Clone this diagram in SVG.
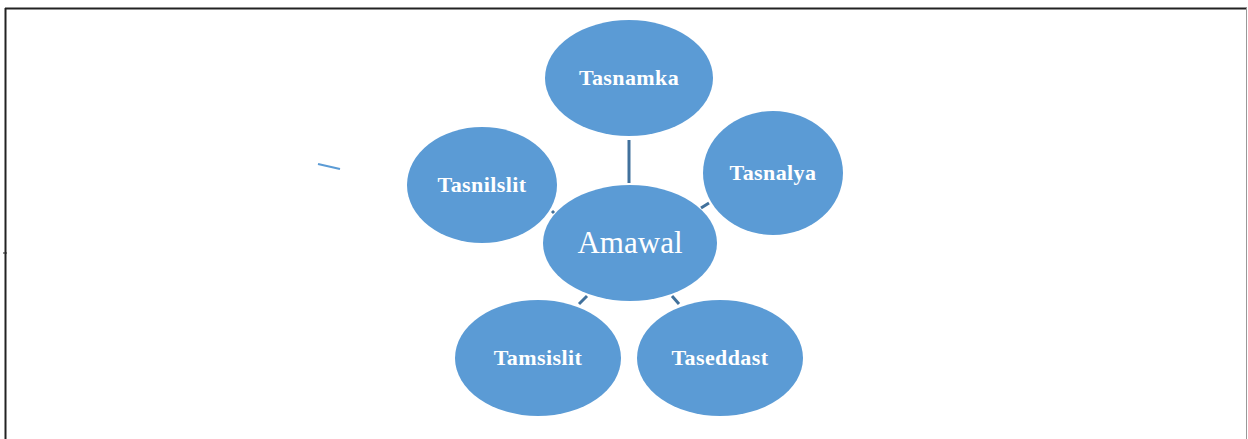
<svg xmlns="http://www.w3.org/2000/svg" width="1248" height="439" viewBox="0 0 1248 439">
<style>
.n{fill:#5B9BD5;}
.t{fill:#fff;font-family:"Liberation Serif",serif;font-weight:bold;font-size:22px;letter-spacing:0.4px;text-anchor:middle;}
.c{stroke:#41719C;stroke-width:3;fill:none;}
</style>
<rect width="1248" height="439" fill="#fff"/>
<g id="frame">
<line x1="5" y1="8.5" x2="1247" y2="8.5" stroke="#222" stroke-width="2"/>
<line x1="5.5" y1="8" x2="5.5" y2="439" stroke="#222" stroke-width="2"/>
<line x1="1246.5" y1="8" x2="1246.5" y2="439" stroke="#999" stroke-width="1"/>
<line x1="3" y1="253" x2="7" y2="253" stroke="#222" stroke-width="1"/>
</g>
<g id="connectors">
<line class="c" x1="629" y1="140" x2="629" y2="183"/>
<line class="c" x1="701" y1="208" x2="709" y2="203"/>
<line class="c" x1="579" y1="304" x2="587" y2="296"/>
<line class="c" x1="672" y1="296" x2="679" y2="304"/>
<line class="c" x1="552" y1="211" x2="554" y2="213"/>
<line x1="318" y1="164" x2="340" y2="169" stroke="#5B9BD5" stroke-width="2"/>
</g>
<g id="node-tasnamka"><ellipse class="n" cx="629" cy="78" rx="84" ry="58"/><text class="t" x="629" y="85">Tasnamka</text></g>
<g id="node-tasnalya"><ellipse class="n" cx="773" cy="173" rx="70" ry="62"/><text class="t" x="773" y="180">Tasnalya</text></g>
<g id="node-tasnilslit"><ellipse class="n" cx="482" cy="185" rx="75" ry="58"/><text class="t" x="482" y="192">Tasnilslit</text></g>
<g id="node-amawal"><ellipse class="n" cx="630" cy="243" rx="87" ry="58"/><text x="630" y="253" fill="#fff" font-family="'Liberation Serif',serif" font-size="31" text-anchor="middle">Amawal</text></g>
<g id="node-tamsislit"><ellipse class="n" cx="538" cy="358" rx="83" ry="58"/><text class="t" x="538" y="365">Tamsislit</text></g>
<g id="node-taseddast"><ellipse class="n" cx="720" cy="358" rx="83" ry="58"/><text class="t" x="720" y="365">Taseddast</text></g>
</svg>
